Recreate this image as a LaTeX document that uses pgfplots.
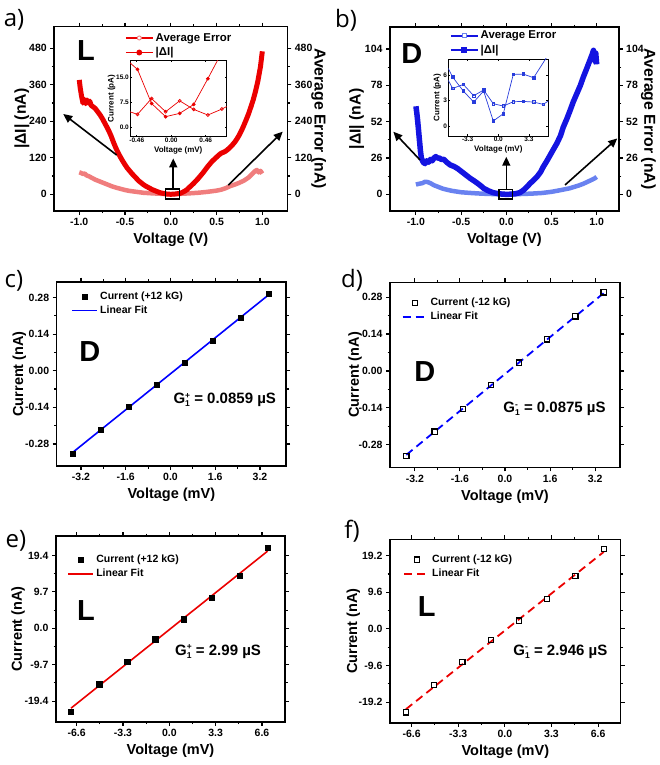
\documentclass[border=0pt]{standalone}
\usepackage{pgfplots}
\pgfplotsset{compat=1.18}
\usepackage{fontspec}
\setmainfont{Liberation Sans}
\newfontfamily\panelfont{Open Sans}
\usetikzlibrary{arrows.meta}

\definecolor{dred}{RGB}{235,0,0}
\definecolor{lred}{RGB}{240,125,125}
\definecolor{dblue}{RGB}{20,20,225}
\definecolor{lblue}{RGB}{105,130,240}
\definecolor{fblue}{RGB}{0,0,255}
\definecolor{iblue}{RGB}{40,60,220}

\newcommand\tickf{\bfseries\fontsize{10.5}{12}\selectfont}
\newcommand\labf{\bfseries\fontsize{14.5}{16}\selectfont}
\newcommand\ylabf{\bfseries\fontsize{15.8}{17}\selectfont}
\newcommand\legf{\bfseries\fontsize{10.5}{12}\selectfont}
\newcommand\bigf{\bfseries\fontsize{29}{32}\selectfont}
\newcommand\gf{\bfseries\fontsize{15}{18}\selectfont}
\newcommand\G[1]{G\raisebox{-3pt}{\fontsize{8.5}{8.5}\selectfont\setlength{\lineskip}{0.5pt}\shortstack[l]{#1\\1}}}

\pgfplotsset{
  panel/.style={
    scale only axis,
    axis line style={line width=1.6pt},
    tick style={line width=1.1pt, black},
    tick align=outside,
    major tick length=4pt,
    minor tick length=2.5pt,
    minor tick num=1,
    /pgf/number format/assume math mode=true,
    ticklabel style={font=\tickf},
    label style={font=\labf},
    xlabel style={at={(axis description cs:0.5,0)}, anchor=center, yshift=-29pt},
    legend cell align=left,
    legend style={draw=none, fill=none, font=\legf, row sep=1pt, inner sep=0pt, outer sep=0pt},
    legend image code/.code={\draw[mark repeat=2,mark phase=2,##1] plot coordinates {(0pt,0pt) (12.5pt,0pt) (25pt,0pt)};},
  },
  longleg/.style={
    legend image code/.code={\draw[mark repeat=2,mark phase=2,##1] plot coordinates {(0pt,0pt) (13.5pt,0pt) (27pt,0pt)};},
  },
  markleg/.style={
    legend image code/.code={\draw[##1] plot coordinates {(12.5pt,0pt)};},
  },
  inset/.style={
    scale only axis,
    axis background/.style={fill=white},
    axis line style={line width=0.8pt},
    tick style={line width=0.6pt, black},
    tick align=inside,
    major tick length=2pt,
    /pgf/number format/assume math mode=true,
    ticklabel style={font=\bfseries\fontsize{6.5}{7}\selectfont, inner sep=1pt},
    label style={font=\bfseries\fontsize{8}{9}\selectfont},
    xlabel style={at={(axis description cs:0.5,0)}, anchor=center, yshift=-13.5pt},
  },
}

\begin{document}
\begin{tikzpicture}
\useasboundingbox (0pt,0pt) rectangle (660pt,-765pt);

% ---------------- panel a ----------------
\begin{axis}[panel, longleg, at={(54.3pt,-26.7pt)}, anchor=north west, width=233pt, height=184pt,
  xmin=-1.273, xmax=1.273, ymin=-54, ymax=551,
  xtick={-1,-0.5,0,0.5,1}, xticklabels={-1.0,-0.5,0.0,0.5,1.0},
  ytick={0,120,240,360,480}, yticklabels={0,120,240,360,480},
  yticklabel pos=left,
  xlabel={Voltage (V)}, ylabel={|ΔI| (nA)},
  ylabel style={at={(axis description cs:-0.139,0.5)}, anchor=center, font=\ylabf},
  legend style={at={(axis description cs:0.303,0.975)}, anchor=north west, font=\bfseries\fontsize{11.4}{13}\selectfont},
]
\addplot[lred, line width=4.5pt, line join=round, forget plot] coordinates {
(-1.00,72) (-0.98,70) (-0.96,67) (-0.94,68) (-0.92,62) (-0.90,60) (-0.875,56) (-0.85,52) (-0.825,48) (-0.80,45) (-0.775,42) (-0.75,39) (-0.725,36) (-0.70,33) (-0.65,27) (-0.60,22) (-0.55,18) (-0.50,14) (-0.45,11) (-0.40,9) (-0.35,7) (-0.30,5) (-0.20,3) (-0.10,1.5) (0,0) (0.10,1.5) (0.20,3) (0.30,5) (0.40,8) (0.45,10) (0.50,12) (0.55,15) (0.60,20) (0.65,27) (0.70,32) (0.75,38) (0.80,45) (0.85,55) (0.88,64) (0.90,70) (0.92,76) (0.94,80) (0.96,72) (0.98,77) (1.00,68)};
\addplot[dred, line width=5pt, line join=round, forget plot] coordinates {
(-1.00,376) (-0.99,350) (-0.975,322) (-0.96,300) (-0.945,312) (-0.93,298) (-0.915,310) (-0.90,300) (-0.885,306) (-0.87,292) (-0.85,288) (-0.825,282) (-0.80,272) (-0.775,262) (-0.75,250) (-0.725,236) (-0.70,222) (-0.675,207) (-0.65,190) (-0.625,170) (-0.60,152) (-0.575,136) (-0.55,122) (-0.525,109) (-0.50,97) (-0.475,86) (-0.45,77) (-0.425,68) (-0.40,60) (-0.375,52) (-0.35,44) (-0.325,38) (-0.30,32) (-0.275,27) (-0.25,23) (-0.225,19) (-0.20,15) (-0.175,12) (-0.15,9) (-0.125,6) (-0.10,4) (-0.075,2.5) (-0.05,1) (-0.025,0.3) (0,0) (0.025,0.3) (0.05,1) (0.075,2) (0.10,3) (0.125,6) (0.15,10) (0.175,15) (0.20,22) (0.225,29) (0.25,36) (0.275,44) (0.30,52) (0.325,61) (0.35,70) (0.375,80) (0.40,90) (0.425,99) (0.45,108) (0.475,115) (0.50,122) (0.525,129) (0.55,135) (0.575,138) (0.60,142) (0.625,148) (0.65,155) (0.675,163) (0.70,172) (0.725,183) (0.75,196) (0.775,211) (0.80,228) (0.825,246) (0.85,265) (0.875,287) (0.90,310) (0.925,338) (0.95,370) (0.965,395) (0.98,420) (0.99,445) (1.00,470)};
\addlegendimage{dred, line width=1.8pt, mark=*, mark size=2pt, mark options={fill=white, draw=lred, line width=0.9pt}}
\addlegendentry{Average Error}
\addlegendimage{dred, line width=1.8pt, mark=*, mark size=2pt}
\addlegendentry{|ΔI|}
\draw[line width=1.4pt] (axis cs:-0.06,-15.5) rectangle (axis cs:0.093,17.4);
\draw[line width=1.6pt, -{Triangle[length=9pt,width=8pt]}] (axis cs:-0.591,129) -- (axis cs:-1.175,264);
\draw[line width=1.6pt, -{Triangle[length=9pt,width=8pt]}] (axis cs:0.628,30) -- (axis cs:1.223,206);
\draw[line width=1.6pt, -{Triangle[length=9pt,width=8pt]}] (axis cs:0.027,17.4) -- (axis cs:0.027,118);
\node[font=\bigf] at (rel axis cs:0.136,0.873) {L};
\end{axis}
\begin{axis}[panel, at={(54.3pt,-26.7pt)}, anchor=north west, width=233pt, height=184pt,
  xmin=-1.273, xmax=1.273, ymin=-54, ymax=551,
  axis x line=none, axis y line*=right,
  ytick={0,120,240,360,480}, yticklabels={0,120,240,360,480},
  ylabel={Average Error (nA)},
  ylabel style={at={(axis description cs:1.135,0.5)}, anchor=center, rotate=180, font=\ylabf},
]
\addplot[draw=none, forget plot] coordinates {(0,0)};
\end{axis}
\begin{axis}[inset, at={(130pt,-60.5pt)}, anchor=north west, width=96.5pt, height=76pt,
  xmin=-0.55, xmax=0.737, ymin=-2.9, ymax=20,
  xtick={-0.46,0,0.46}, xticklabels={-0.46,0.00,0.46},
  ytick={0,7.5,15}, yticklabels={0.0,7.5,15.0},
  xlabel={Voltage (mV)}, ylabel={Current (pA)},
  ylabel style={at={(axis description cs:-0.19,0.5)}, anchor=center},
]
\addplot[dred, line width=0.7pt, mark=o, mark size=1.5pt, mark options={fill=white}] coordinates {
(-0.64,5.2) (-0.45,3.77) (-0.2625,8.54) (-0.075,4.57) (0.1125,7.85) (0.30,5.26) (0.4875,3.57) (0.675,5.36) (0.8625,7.6)};
\addplot[dred, line width=0.7pt, mark=*, mark size=1.5pt] coordinates {
(-0.64,21.1) (-0.45,17.3) (-0.2625,7.05) (-0.075,3.08) (0.1125,4.07) (0.30,6.75) (0.4875,14.5) (0.675,22.5)};
\end{axis}

% ---------------- panel b ----------------
\begin{axis}[panel, longleg, at={(390pt,-27.3pt)}, anchor=north west, width=228.7pt, height=183.4pt,
  xmin=-1.287, xmax=1.244, ymin=-11.7, ymax=119.5,
  xtick={-1,-0.5,0,0.5,1}, xticklabels={-1.0,-0.5,0.0,0.5,1.0},
  ytick={0,26,52,78,104}, yticklabels={0,26,52,78,104},
  yticklabel pos=left,
  xlabel={Voltage (V)}, ylabel={|ΔI| (nA)},
  ylabel style={at={(axis description cs:-0.146,0.5)}, anchor=center, font=\ylabf},
  legend style={at={(axis description cs:0.262,0.99)}, anchor=north west, font=\bfseries\fontsize{11.4}{13}\selectfont},
]
\addplot[lblue, line width=4.5pt, line join=round, forget plot] coordinates {
(-1.00,7) (-0.97,7.5) (-0.93,8) (-0.90,9) (-0.87,8.8) (-0.84,8) (-0.80,6.5) (-0.76,5.5) (-0.70,4) (-0.65,3.2) (-0.60,2.5) (-0.50,1.5) (-0.40,1) (-0.30,0.6) (-0.20,0.3) (0,0) (0.20,0.3) (0.30,0.6) (0.40,1) (0.50,1.8) (0.60,3) (0.70,4.3) (0.80,6.3) (0.85,7.5) (0.90,9) (0.95,10.5) (0.98,11.5) (1.00,12.5)};
\addplot[dblue, line width=5.5pt, line join=round, forget plot] coordinates {
(-1.00,63) (-0.99,58) (-0.98,52) (-0.97,45) (-0.96,38) (-0.95,31) (-0.94,26) (-0.92,23) (-0.90,22) (-0.88,24) (-0.86,23) (-0.84,25) (-0.82,24) (-0.80,26) (-0.78,27) (-0.76,26) (-0.74,26) (-0.72,25) (-0.69,25) (-0.66,23) (-0.62,21) (-0.58,20) (-0.54,18.5) (-0.50,16.5) (-0.47,15) (-0.43,13) (-0.40,11.5) (-0.36,9.8) (-0.32,8) (-0.28,6) (-0.25,4.3) (-0.20,2.6) (-0.15,1.3) (-0.10,0.6) (-0.05,0.2) (0,0) (0.05,0.1) (0.10,0.4) (0.15,1.2) (0.19,3) (0.23,5.5) (0.265,7.9) (0.30,10) (0.34,12.6) (0.38,16) (0.41,19.8) (0.45,24) (0.485,28) (0.52,32) (0.56,36.5) (0.60,42) (0.63,48) (0.67,54) (0.706,60) (0.74,66) (0.78,72) (0.82,78) (0.853,84) (0.89,90) (0.926,96) (0.95,100) (0.965,103) (0.975,99) (0.985,95) (0.99,101) (1.00,93)};
\addlegendimage{dblue, line width=1.8pt, mark=square*, mark size=2pt, mark options={fill=white, draw=lblue, line width=0.9pt}}
\addlegendentry{Average Error}
\addlegendimage{dblue, line width=1.8pt, mark=square*, mark size=2pt}
\addlegendentry{|ΔI|}
\draw[line width=1.4pt] (axis cs:-0.081,-3.4) rectangle (axis cs:0.07,3.6);
\draw[line width=1.6pt, -{Triangle[length=9pt,width=8pt]}] (axis cs:-0.955,24.6) -- (axis cs:-1.25,44.8);
\draw[line width=1.6pt, -{Triangle[length=9pt,width=8pt]}] (axis cs:0.65,6.7) -- (axis cs:1.228,40);
\draw[line width=1.6pt, -{Triangle[length=9pt,width=8pt]}] (axis cs:0,3.6) -- (axis cs:0,26.9);
\node[font=\bigf] at (rel axis cs:0.095,0.858) {D};
\end{axis}
\begin{axis}[panel, at={(390pt,-27.3pt)}, anchor=north west, width=228.7pt, height=183.4pt,
  xmin=-1.287, xmax=1.244, ymin=-11.7, ymax=119.5,
  axis x line=none, axis y line*=right,
  ytick={0,26,52,78,104}, yticklabels={0,26,52,78,104},
  ylabel={Average Error (nA)},
  ylabel style={at={(axis description cs:1.13,0.5)}, anchor=center, rotate=180, font=\ylabf},
]
\addplot[draw=none, forget plot] coordinates {(0,0)};
\end{axis}
\begin{axis}[inset, at={(448.3pt,-59pt)}, anchor=north west, width=100pt, height=77pt,
  xmin=-5.38, xmax=5.38, ymin=-1.18, ymax=7.9,
  xtick={-3.3,0,3.3}, xticklabels={-3.3,0.0,3.3},
  ytick={0,3,6}, yticklabels={0,3,6},
  xlabel={Voltage (mV)}, ylabel={Current (pA)},
  ylabel style={at={(axis description cs:-0.11,0.5)}, anchor=center},
]
\addplot[iblue, line width=0.7pt, mark=square, mark size=1.4pt, mark options={fill=white}] coordinates {
(-5.98,6.6) (-4.91,4.43) (-3.76,4.90) (-2.65,3.57) (-1.58,4.24) (-0.54,2.63) (0.54,2.35) (1.61,2.86) (2.69,2.90) (3.80,2.82) (4.84,2.55) (5.9,3.32)};
\addplot[iblue, line width=0.7pt, mark=square*, mark size=1.4pt] coordinates {
(-5.98,8.1) (-4.91,5.76) (-3.76,4.12) (-2.65,2.82) (-1.58,4.12) (-0.54,0.59) (0.54,1.45) (1.61,6.08) (2.69,6.12) (3.80,5.69) (5.9,9.3)};
\end{axis}

% ---------------- panel c ----------------
\begin{axis}[panel, at={(56.7pt,-281.7pt)}, anchor=north west, width=229.3pt, height=184.3pt,
  xmin=-4.07, xmax=4.13, ymin=-0.364, ymax=0.34,
  xtick={-3.2,-1.6,0,1.6,3.2}, xticklabels={-3.2,-1.6,0.0,1.6,3.2},
  ytick={-0.28,-0.14,0,0.14,0.28}, yticklabels={-0.28,-0.14,0.00,0.14,0.28},
  xlabel={Voltage (mV)}, ylabel={Current (nA)},
  ylabel style={at={(axis description cs:-0.163,0.5)}, anchor=center},
  legend style={at={(axis description cs:0.065,0.955)}, anchor=north west},
]
\addplot[only marks, black, mark=square*, mark size=2.6pt, markleg] coordinates {
(-3.5,-0.318) (-2.5,-0.2265) (-1.5,-0.1375) (-0.5,-0.0535) (0.5,0.0318) (1.5,0.1158) (2.5,0.2024) (3.5,0.2927)};
\addlegendentry{Current (+12 kG)}
\addplot[fblue, line width=1.6pt] coordinates {(-3.5,-0.3123) (3.5,0.2891)};
\addlegendentry{Linear Fit}
\node[font=\bigf] at (rel axis cs:0.145,0.62) {D};
\node[font=\gf, anchor=west] at (rel axis cs:0.494,0.358) {\G{+} = 0.0859 µS};
\end{axis}

% ---------------- panel d ----------------
\begin{axis}[panel, at={(390pt,-282.3pt)}, anchor=north west, width=230pt, height=185pt,
  xmin=-4.08, xmax=4.08, ymin=-0.365, ymax=0.336,
  xtick={-3.2,-1.6,0,1.6,3.2}, xticklabels={-3.2,-1.6,0.0,1.6,3.2},
  ytick={-0.28,-0.14,0,0.14,0.28}, yticklabels={-0.28,-0.14,0.00,0.14,0.28},
  xlabel={Voltage (mV)}, ylabel={Current (nA)},
  ylabel style={at={(axis description cs:-0.152,0.5)}, anchor=center},
  legend style={at={(axis description cs:0.051,0.925)}, anchor=north west},
]
\addplot[only marks, black, mark=square, mark size=2.6pt, mark options={line width=1.2pt, fill=white}, markleg] coordinates {
(-3.5,-0.322) (-2.5,-0.230) (-1.5,-0.143) (-0.5,-0.054) (0.5,0.032) (1.5,0.120) (2.5,0.207) (3.5,0.298)};
\addlegendentry{Current (-12 kG)}
\addplot[fblue, line width=1.8pt, dash pattern=on 8pt off 5pt] coordinates {(-3.5,-0.3178) (3.5,0.2948)};
\addlegendentry{Linear Fit}
\node[font=\bigf] at (rel axis cs:0.152,0.517) {D};
\node[font=\gf, anchor=west] at (rel axis cs:0.478,0.314) {\G{-} = 0.0875 µS};
\end{axis}

% ---------------- panel e ----------------
\begin{axis}[panel, at={(56pt,-536pt)}, anchor=north west, width=229pt, height=185.7pt,
  xmin=-8.07, xmax=8.24, ymin=-24.9, ymax=24.6,
  xtick={-6.6,-3.3,0,3.3,6.6}, xticklabels={-6.6,-3.3,0.0,3.3,6.6},
  ytick={-19.4,-9.7,0,9.7,19.4}, yticklabels={-19.4,-9.7,0.0,9.7,19.4},
  xlabel={Voltage (mV)}, ylabel={Current (nA)},
  ylabel style={at={(axis description cs:-0.165,0.5)}, anchor=center},
  legend style={at={(axis description cs:0.051,0.908)}, anchor=north west},
]
\addplot[only marks, black, mark=square*, mark size=2.6pt, markleg] coordinates {
(-7,-22.3) (-5,-14.9) (-3,-8.9) (-1,-2.9) (1,2.4) (3,8.2) (5,14.1) (7,21.4)};
\addlegendentry{Current (+12 kG)}
\addplot[dred, line width=1.6pt] coordinates {(-7,-21.29) (7,20.57)};
\addlegendentry{Linear Fit}
\node[font=\bigf] at (rel axis cs:0.131,0.60) {L};
\node[font=\gf, anchor=west] at (rel axis cs:0.505,0.377) {\G{+} = 2.99 µS};
\end{axis}

% ---------------- panel f ----------------
\begin{axis}[panel, at={(390pt,-539.3pt)}, anchor=north west, width=230.7pt, height=183.4pt,
  xmin=-8.13, xmax=8.2, ymin=-24.6, ymax=23.5,
  xtick={-6.6,-3.3,0,3.3,6.6}, xticklabels={-6.6,-3.3,0.0,3.3,6.6},
  ytick={-19.2,-9.6,0,9.6,19.2}, yticklabels={-19.2,-9.6,0.0,9.6,19.2},
  xlabel={Voltage (mV)}, ylabel={Current (nA)},
  ylabel style={at={(axis description cs:-0.159,0.5)}, anchor=center},
  legend style={at={(axis description cs:0.058,0.925)}, anchor=north west},
]
\addplot[only marks, black, mark=square, mark size=2.6pt, mark options={line width=1.2pt, fill=white}, markleg] coordinates {
(-7,-21.9) (-5,-14.7) (-3,-8.75) (-1,-2.9) (1,2.2) (3,7.9) (5,13.8) (7,20.9)};
\addlegendentry{Current (-12 kG)}
\addplot[dred, line width=1.8pt, dash pattern=on 8pt off 5pt] coordinates {(-7,-21.05) (7,20.19)};
\addlegendentry{Linear Fit}
\node[font=\bigf] at (rel axis cs:0.159,0.632) {L};
\node[font=\gf, anchor=west] at (rel axis cs:0.52,0.387) {\G{-} = 2.946 µS};
\end{axis}

% panel letters
\node[font=\panelfont\fontsize{24}{28}\selectfont] at (14pt,-20pt) {a)};
\node[font=\panelfont\fontsize{24}{28}\selectfont] at (346pt,-20pt) {b)};
\node[font=\panelfont\fontsize{24}{28}\selectfont] at (14pt,-281pt) {c)};
\node[font=\panelfont\fontsize{24}{28}\selectfont] at (352pt,-280pt) {d)};
\node[font=\panelfont\fontsize{24}{28}\selectfont] at (16pt,-541pt) {e)};
\node[font=\panelfont\fontsize{24}{28}\selectfont] at (352pt,-531pt) {f)};
\end{tikzpicture}
\end{document}
